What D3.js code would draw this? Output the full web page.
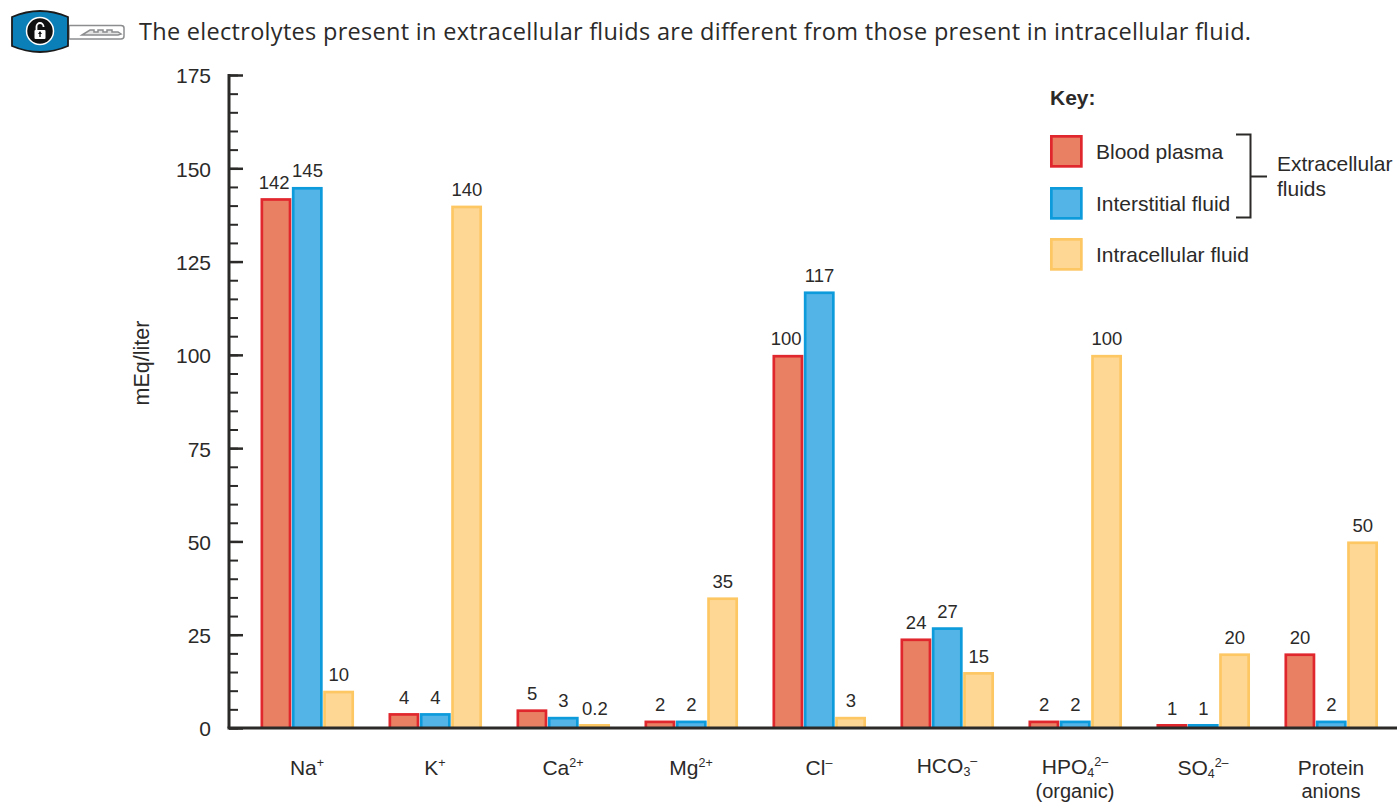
<!DOCTYPE html>
<html>
<head>
<meta charset="utf-8">
<script src="https://cdn.jsdelivr.net/npm/d3@7"></script>
<style>
  html, body { margin: 0; padding: 0; background: #fff; }
  svg { display: block; }
  text { font-family: "Liberation Sans", sans-serif; fill: #2b2a29; }
</style>
</head>
<body>
<svg id="chart" width="1397" height="802"></svg>
<script>
var categories = ["Na+", "K+", "Ca2+", "Mg2+", "Cl-", "HCO3-", "HPO42-", "SO42-", "Protein anions"];
var seriesNames = ["Blood plasma", "Interstitial fluid", "Intracellular fluid"];
var bloodPlasma = [142, 4, 5, 2, 100, 24, 2, 1, 20];
var interstitial = [145, 4, 3, 2, 117, 27, 2, 1, 2];
var intracellular = [10, 140, 0.2, 35, 3, 15, 100, 20, 50];
var strokeColors = ["#e1272e", "#0e9bdc", "#fdc764"];
var fillColors = ["#e98064", "#53b4e7", "#fed794"];
var majorTicks = [0, 25, 50, 75, 100, 125, 150, 175];
var minorTicks = d3.range(0, 176, 5);

// label pieces: [text, kind], second line kept apart
var categoryLabels = [
  [["Na"], ["+", "sup"]],
  [["K"], ["+", "sup"]],
  [["Ca"], ["2+", "sup"]],
  [["Mg"], ["2+", "sup"]],
  [["Cl"], ["–", "sup"]],
  [["HCO"], ["3", "sub"], ["–", "sup"]],
  [["HPO"], ["4", "sub"], ["2–", "sup"]],
  [["SO"], ["4", "sub"], ["2–", "sup"]],
  [["Protein"]]
];
var secondLines = ["", "", "", "", "", "", "(organic)", "", "anions"];
var labelBaselines = [775, 775, 775, 775, 775, 773, 773.5, 775, 774.5];

var svg = d3.select("#chart");
var series = [bloodPlasma, interstitial, intracellular];

var y = d3.scaleLinear().domain([0, 175]).range([728, 75]);
var x0 = d3.scaleBand().domain(categories).range([260.5, 1377.5]).paddingInner(0.273).paddingOuter(0);
var x1 = d3.scaleBand().domain(d3.range(3)).range([0, x0.bandwidth() + 1]);

drawKeyIcon();

svg.append("text")
  .attr("x", 139).attr("y", 40)
  .style("font-family", '"Open Sans", sans-serif')
  .style("font-size", "23.5px")
  .attr("textLength", 1112)
  .text("The electrolytes present in extracellular fluids are different from those present in intracellular fluid.");

// bars
var groups = svg.append("g").selectAll("g")
  .data(categories)
  .enter().append("g")
  .attr("transform", function(d) { return "translate(" + x0(d) + ",0)"; });

groups.each(function(cat, c) {
  var g = d3.select(this);
  series.forEach(function(values, s) {
    var v = values[c];
    // very small values still need a visible sliver
    var top = Math.min(y(v), y(0) - 4);
    var h = y(0) - top;
    g.append("rect")
      .attr("x", x1(s)).attr("y", top)
      .attr("width", x1.bandwidth() - 0.5).attr("height", h)
      .attr("fill", strokeColors[s]);
    if (h > 4) {
      g.append("rect")
        .attr("x", x1(s) + 2.7).attr("y", top + 2.7)
        .attr("width", x1.bandwidth() - 5.9).attr("height", h - 2.7)
        .attr("fill", fillColors[s]);
    }
    g.append("text")
      .attr("x", x1(s) + x1.bandwidth() / 2 - (s == 0 && v > 99 ? 2 : 0))
      .attr("y", top - 9.5)
      .attr("text-anchor", "middle")
      .style("font-size", "18.5px")
      .text(v);
  });
});

// axes
var minorAxis = d3.axisLeft(y).tickValues(minorTicks).tickSize(-9).tickFormat("");
var majorAxis = d3.axisLeft(y).tickValues(majorTicks).tickSize(-14).tickPadding(18);

svg.append("g").attr("transform", "translate(229,0)").call(minorAxis)
  .call(function(g) { g.select(".domain").remove(); })
  .selectAll("line").attr("stroke", "#2b2a29").attr("stroke-width", 2);

var yAxisG = svg.append("g").attr("transform", "translate(229,0)").call(majorAxis);
yAxisG.select(".domain").remove();
yAxisG.selectAll("line").attr("stroke", "#2b2a29").attr("stroke-width", 2.5);
yAxisG.selectAll("text")
  .attr("dy", "0.38em")
  .style("font-size", "21px")
  .style("font-family", '"Liberation Sans", sans-serif')
  .attr("fill", "#2b2a29");

svg.append("line")
  .attr("x1", 229).attr("x2", 229).attr("y1", y(175) - 1).attr("y2", y(0))
  .attr("stroke", "#2b2a29").attr("stroke-width", 3);
svg.append("line")
  .attr("x1", 227.5).attr("x2", 1397).attr("y1", y(0)).attr("y2", y(0))
  .attr("stroke", "#2b2a29").attr("stroke-width", 3);

svg.append("text")
  .attr("transform", "translate(149,363) rotate(-90)")
  .attr("text-anchor", "middle")
  .style("font-size", "21.5px")
  .text("mEq/liter");

// category labels
categories.forEach(function(cat, i) {
  var cx = x0(cat) + x0.bandwidth() / 2;
  var t = svg.append("text")
    .attr("x", cx).attr("y", labelBaselines[i])
    .attr("text-anchor", "middle")
    .style("font-size", "21px");
  var shift = 0;
  categoryLabels[i].forEach(function(part) {
    var target = part[1] == "sup" ? -8 : part[1] == "sub" ? 3 : 0;
    t.append("tspan")
      .attr("dy", target - shift)
      .style("font-size", part[1] ? "12.5px" : "21px")
      .text(part[0]);
    shift = target;
  });
  if (secondLines[i]) {
    svg.append("text")
      .attr("x", cx).attr("y", 797.5)
      .attr("text-anchor", "middle")
      .style("font-size", "20px")
      .text(secondLines[i]);
  }
});

// key
var keyX = 1050, keyYs = [135, 187, 238];
svg.append("text").attr("x", keyX).attr("y", 105)
  .style("font-size", "21px").style("font-weight", "bold").text("Key:");

seriesNames.forEach(function(name, s) {
  svg.append("rect")
    .attr("x", keyX + 1.35).attr("y", keyYs[s] + 1.35)
    .attr("width", 30).attr("height", 30)
    .attr("fill", fillColors[s]).attr("stroke", strokeColors[s]).attr("stroke-width", 2.7);
  svg.append("text")
    .attr("x", 1096).attr("y", keyYs[s] + 24)
    .style("font-size", "21px")
    .text(name);
});

svg.append("path")
  .attr("d", "M1236,134.5H1250.5V217.5H1236M1250.5,176.5H1267")
  .attr("fill", "none").attr("stroke", "#2b2a29").attr("stroke-width", 2);
svg.append("text").attr("x", 1277).attr("y", 171).style("font-size", "21px").text("Extracellular");
svg.append("text").attr("x", 1277).attr("y", 196).style("font-size", "21px").text("fluids");

function drawKeyIcon() {
  var icon = svg.append("g");
  // shaft
  icon.append("path")
    .attr("d", "M69,25.5H121Q124,25.5 124,28V36Q124,39 121,39H69Z")
    .attr("fill", "#fff").attr("stroke", "#8c8d8f").attr("stroke-width", 1.5);
  icon.append("path")
    .attr("d", "M82,35L90,30H94V32H98V30H103V32H107V30H112V32H118L121,34L118,35Z")
    .attr("fill", "#e4e4e4").attr("stroke", "#8c8d8f").attr("stroke-width", 1.5);
  // head
  icon.append("path")
    .attr("d", "M12,17Q40,5 68,17V46Q40,58 12,46Z")
    .attr("fill", "#0a7fb8").attr("stroke", "#1b1b1b").attr("stroke-width", 1.8);
  icon.append("circle").attr("cx", 40).attr("cy", 31).attr("r", 13.5)
    .attr("fill", "#111").attr("stroke", "#fff").attr("stroke-width", 1.5);
  // padlock
  icon.append("rect").attr("x", 34.5).attr("y", 30).attr("width", 11).attr("height", 9).attr("rx", 1).attr("fill", "#fff");
  icon.append("path")
    .attr("d", "M36.5,30V26.5A3.5,3.5 0 0 1 43.5,26.5V27")
    .attr("fill", "none").attr("stroke", "#fff").attr("stroke-width", 1.8);
  icon.append("path").attr("d", "M40,31L38,34H39.3V37H40.7V34H42Z").attr("fill", "#111");
}
</script>
</body>
</html>
